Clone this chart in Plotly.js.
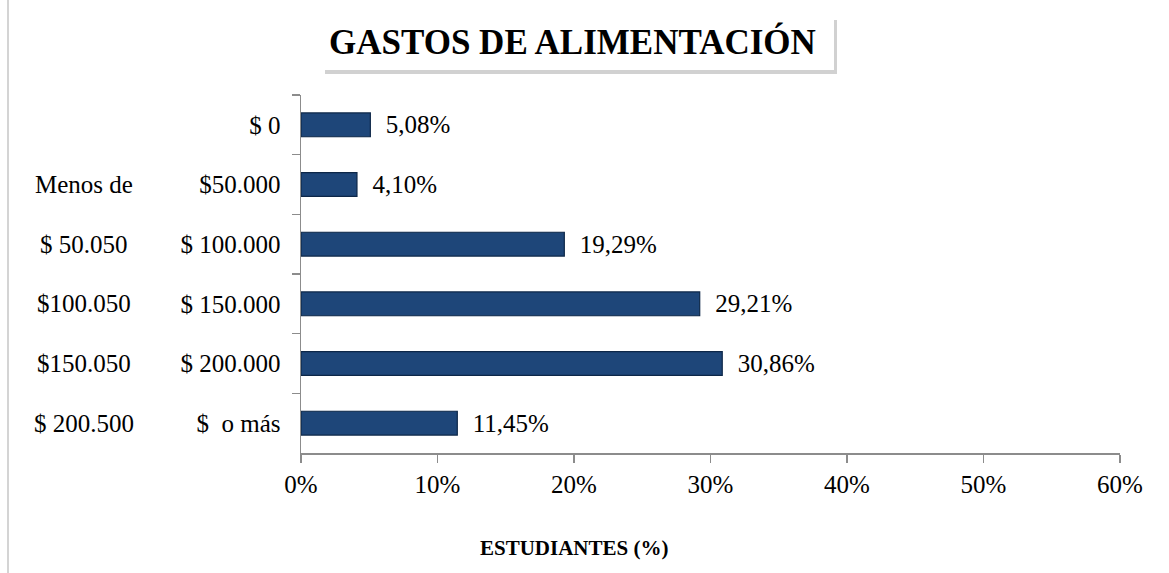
<!DOCTYPE html>
<html>
<head>
<meta charset="utf-8">
<script src="https://cdn.plot.ly/plotly-3.0.1.min.js"></script>
<style>html,body{margin:0;padding:0;background:#fff;}#chart{width:1169px;height:573px;}</style>
</head>
<body>
<div id="chart"></div>
<script>
// Data
const rangeFrom = ["", "Menos de", "$ 50.050", "$100.050", "$150.050", "$ 200.500"];
const rangeTo = ["$ 0", "$50.000", "$ 100.000", "$ 150.000", "$ 200.000", "$\u00a0\u00a0o más"];
const percentages = [5.08, 4.10, 19.29, 29.21, 30.86, 11.45];
const xTickVals = [0, 10, 20, 30, 40, 50, 60];
const xTickText = ["0%", "10%", "20%", "30%", "40%", "50%", "60%"];
const chartTitle = "GASTOS DE ALIMENTACIÓN";
const xTitle = "ESTUDIANTES (%)";

const FONT = "Liberation Serif, Times New Roman, serif";
const FS = 25;
const L = 301, R = 1120, T = 95, B = 453;
const W = R - L, H = B - T;
const px = p => (p - L) / W;
const py = q => (B - q) / H;

const labels = percentages.map(v => "\u00a0\u00a0" + v.toFixed(2).replace(".", ",") + "%");

const trace = {
  type: "bar",
  orientation: "h",
  y: rangeTo,
  x: percentages,
  text: labels,
  textposition: "outside",
  texttemplate: "%{text}",
  constraintext: "none",
  cliponaxis: false,
  textfont: {family: FONT, size: FS, color: "#000"},
  marker: {color: "#1e4679", line: {color: "#0d2748", width: 1.2}},
  hoverinfo: "none"
};

const annotations = rangeFrom.map((t, i) => ({
  text: t, xref: "paper", yref: "y", x: px(84), y: rangeTo[i],
  xanchor: "center", yanchor: "middle", showarrow: false,
  font: {family: FONT, size: FS, color: "#000"}
}));
annotations.push({
  text: "<b>" + chartTitle + "</b>", xref: "paper", yref: "paper",
  x: px(572), y: py(42), xanchor: "center", yanchor: "middle", showarrow: false,
  font: {family: FONT, size: 35, color: "#000"}
});
annotations.push({
  text: "<b>" + xTitle + "</b>", xref: "paper", yref: "paper",
  x: px(574), y: py(548), xanchor: "center", yanchor: "middle", showarrow: false,
  font: {family: FONT, size: 21, color: "#000"}
});

const shapes = [
  {type: "line", xref: "paper", yref: "paper", x0: px(8), x1: px(8), y0: py(573), y1: py(0),
   line: {color: "#d4d4d4", width: 2}},
  {type: "rect", xref: "paper", yref: "paper", x0: px(325), x1: px(837), y0: py(20), y1: py(74),
   fillcolor: "rgba(0,0,0,0.18)", line: {width: 0}, layer: "below"},
  {type: "rect", xref: "paper", yref: "paper", x0: px(322), x1: px(834), y0: py(15), y1: py(70),
   fillcolor: "#ffffff", line: {width: 0}, layer: "below"}
];

const layout = {
  width: 1169, height: 573,
  margin: {l: L, r: 1169 - R, t: T, b: 573 - B, pad: 0},
  paper_bgcolor: "#fff", plot_bgcolor: "rgba(0,0,0,0)",
  showlegend: false,
  bargap: 0.6,
  xaxis: {
    range: [0, 60], tickvals: xTickVals, ticktext: xTickText,
    showgrid: false, zeroline: false, showline: true, linecolor: "#8c8c8c", linewidth: 1.5,
    ticks: "outside", ticklen: 8, tickcolor: "#8c8c8c", tickwidth: 1.5,
    tickfont: {family: FONT, size: FS, color: "#000"}, fixedrange: true
  },
  yaxis: {
    type: "category", categoryorder: "array", categoryarray: rangeTo,
    range: [5.5, -0.5], tickson: "boundaries",
    showgrid: false, zeroline: false, showline: true, linecolor: "#8c8c8c", linewidth: 1.5,
    ticks: "outside", ticklen: 8, tickcolor: "#8c8c8c", tickwidth: 1.5,
    ticklabelstandoff: 14,
    tickfont: {family: FONT, size: FS, color: "#000"}, fixedrange: true
  },
  annotations: annotations,
  shapes: shapes
};

Plotly.newPlot("chart", [trace], layout, {displayModeBar: false, staticPlot: true});
</script>
</body>
</html>
